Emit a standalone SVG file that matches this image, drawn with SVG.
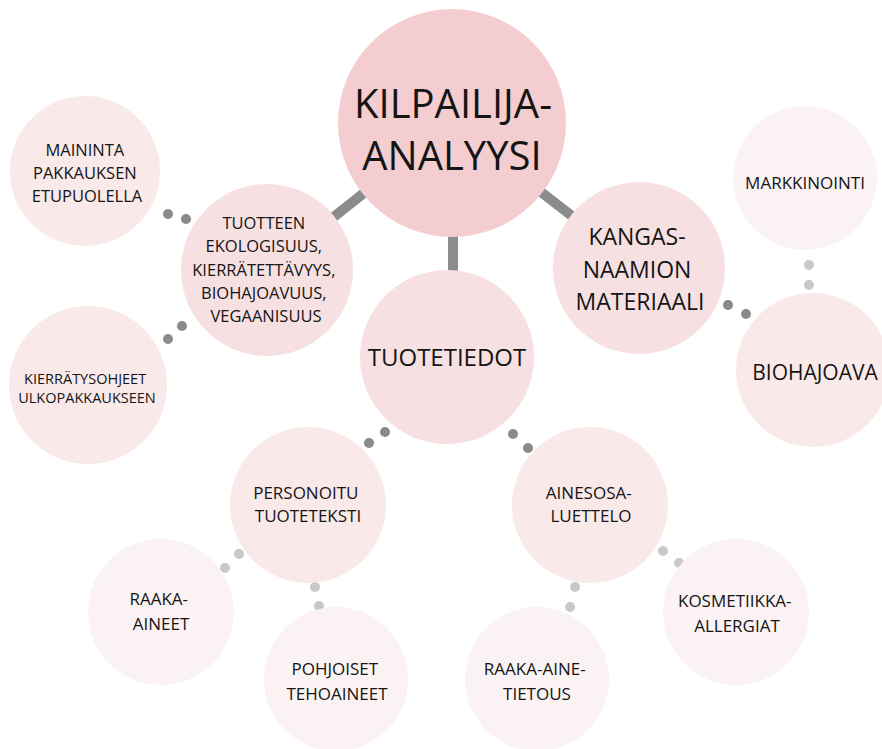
<svg xmlns="http://www.w3.org/2000/svg" width="882" height="749" viewBox="0 0 882 749">
  <style>
    .lbl { font-family: "Open Sans", "Noto Sans", "Liberation Sans", sans-serif; fill: #151515; text-anchor: middle; }
    .l1 { fill: #f3cdcf; }
    .l2 { fill: #f6e0e1; }
    .l3 { fill: #f9e9e9; }
    .l4 { fill: #fbf3f3; }
    .bar { stroke: #8c8c8c; stroke-width: 10; stroke-linecap: round; fill: none; }
    .dk { fill: #8a8a8a; }
    .lt { fill: #c8c8c8; }
  </style>

  <!-- connectors: bars from the hub, dotted links between branches -->
  <g id="connectors">
    <line class="bar" x1="452" y1="123" x2="267" y2="270"/>
    <line class="bar" x1="453" y1="123" x2="453" y2="269"/>
    <line class="bar" x1="452" y1="123" x2="639" y2="268"/>
    <circle class="dk" cx="168" cy="214" r="5"/>
    <circle class="dk" cx="186" cy="219" r="5"/>
    <circle class="dk" cx="182" cy="326" r="5"/>
    <circle class="dk" cx="168" cy="339" r="5"/>
    <circle class="dk" cx="385" cy="432" r="5"/>
    <circle class="dk" cx="369" cy="443" r="5"/>
    <circle class="dk" cx="513" cy="434" r="5"/>
    <circle class="dk" cx="528" cy="448" r="5"/>
    <circle class="dk" cx="728" cy="305" r="5"/>
    <circle class="dk" cx="746" cy="314" r="5"/>
    <circle class="lt" cx="809" cy="265" r="5"/>
    <circle class="lt" cx="809" cy="285" r="5"/>
    <circle class="lt" cx="239" cy="554" r="5"/>
    <circle class="lt" cx="225" cy="568" r="5"/>
    <circle class="lt" cx="315" cy="587" r="5"/>
    <circle class="lt" cx="319" cy="606" r="5"/>
    <circle class="lt" cx="663" cy="551" r="5"/>
    <circle class="lt" cx="679" cy="563" r="5"/>
    <circle class="lt" cx="575" cy="587" r="5"/>
    <circle class="lt" cx="570" cy="607" r="5"/>
  </g>

  <g id="kilpailija-analyysi">
    <circle class="l1" cx="452" cy="123" r="114"/>
    <text class="lbl" x="453" y="118" font-size="40">KILPAILIJA-</text>
    <text class="lbl" x="452" y="170" font-size="40">ANALYYSI</text>
  </g>

  <g id="tuotteen-ekologisuus">
    <circle class="l2" cx="267" cy="270" r="86"/>
    <text class="lbl" font-size="16.5">
      <tspan x="266" y="229">TUOTTEEN</tspan>
      <tspan x="266" y="252">EKOLOGISUUS,</tspan>
      <tspan x="266" y="275.5">KIERRÄTETTÄVYYS,</tspan>
      <tspan x="266" y="299">BIOHAJOAVUUS,</tspan>
      <tspan x="266" y="322">VEGAANISUUS</tspan>
    </text>
  </g>

  <g id="tuotetiedot">
    <circle class="l2" cx="447" cy="357" r="87"/>
    <text class="lbl" x="447" y="366" font-size="24">TUOTETIEDOT</text>
  </g>

  <g id="kangasnaamion-materiaali">
    <circle class="l2" cx="639" cy="268" r="86"/>
    <text class="lbl" font-size="23">
      <tspan x="640" y="245">KANGAS-</tspan>
      <tspan x="640" y="278">NAAMION</tspan>
      <tspan x="640" y="310">MATERIAALI</tspan>
    </text>
  </g>

  <g id="maininta">
    <circle class="l3" cx="85" cy="171" r="75"/>
    <text class="lbl" font-size="16.5">
      <tspan x="87" y="156">MAININTA</tspan>
      <tspan x="87" y="179">PAKKAUKSEN</tspan>
      <tspan x="87" y="202">ETUPUOLELLA</tspan>
    </text>
  </g>

  <g id="kierratysohjeet">
    <circle class="l3" cx="88" cy="385" r="79"/>
    <text class="lbl" font-size="14.5">
      <tspan x="87" y="384">KIERRÄTYSOHJEET</tspan>
      <tspan x="87" y="403">ULKOPAKKAUKSEEN</tspan>
    </text>
  </g>

  <g id="markkinointi">
    <circle class="l4" cx="805" cy="178" r="72"/>
    <text class="lbl" x="805" y="189" font-size="17">MARKKINOINTI</text>
  </g>

  <g id="biohajoava">
    <circle class="l3" cx="813" cy="370" r="77"/>
    <text class="lbl" x="815" y="380" font-size="21">BIOHAJOAVA</text>
  </g>

  <g id="personoitu-tuoteteksti">
    <circle class="l3" cx="308" cy="505" r="78"/>
    <text class="lbl" font-size="17">
      <tspan x="308" y="499">PERSONOITU</tspan>
      <tspan x="308" y="522">TUOTETEKSTI</tspan>
    </text>
  </g>

  <g id="ainesosaluettelo">
    <circle class="l3" cx="590" cy="505" r="78"/>
    <text class="lbl" font-size="17">
      <tspan x="591" y="499">AINESOSA-</tspan>
      <tspan x="591" y="522">LUETTELO</tspan>
    </text>
  </g>

  <g id="raaka-aineet">
    <circle class="l4" cx="161" cy="612" r="73"/>
    <text class="lbl" font-size="17">
      <tspan x="161" y="605">RAAKA-</tspan>
      <tspan x="161" y="630">AINEET</tspan>
    </text>
  </g>

  <g id="pohjoiset-tehoaineet">
    <circle class="l4" cx="336" cy="679" r="72"/>
    <text class="lbl" font-size="17">
      <tspan x="337" y="675">POHJOISET</tspan>
      <tspan x="337" y="700">TEHOAINEET</tspan>
    </text>
  </g>

  <g id="raaka-ainetietous">
    <circle class="l4" cx="537" cy="679" r="72"/>
    <text class="lbl" font-size="17">
      <tspan x="537" y="675">RAAKA-AINE-</tspan>
      <tspan x="537" y="700">TIETOUS</tspan>
    </text>
  </g>

  <g id="kosmetiikka-allergiat">
    <circle class="l4" cx="736" cy="612" r="73"/>
    <text class="lbl" font-size="17">
      <tspan x="737" y="607">KOSMETIIKKA-</tspan>
      <tspan x="737" y="632">ALLERGIAT</tspan>
    </text>
  </g>
</svg>
